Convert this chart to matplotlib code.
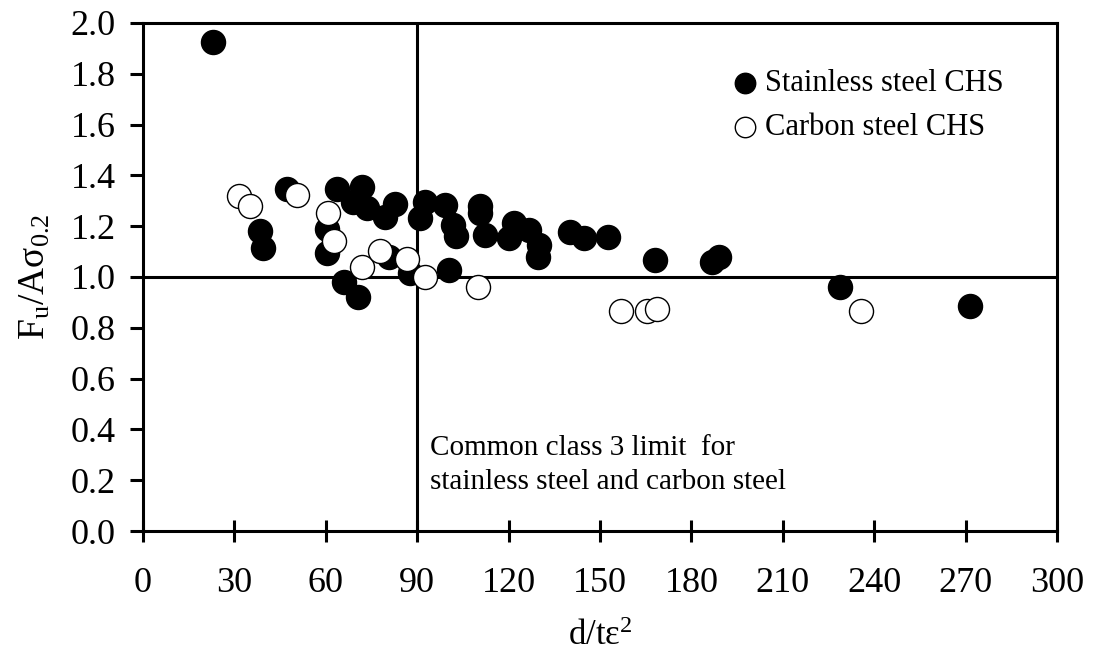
import matplotlib
matplotlib.use("Agg")
import matplotlib.pyplot as plt

plt.rcParams['font.family'] = ['Liberation Serif', 'DejaVu Serif']
plt.rcParams['mathtext.fontset'] = 'custom'
plt.rcParams['mathtext.rm'] = 'Liberation Serif'
plt.rcParams['mathtext.it'] = 'Liberation Serif:italic'

# stainless steel CHS (filled)
stainless_x = [22.9, 38.4, 39.3, 47.4, 60.3, 60.5, 63.6, 66.0, 69.0, 70.7, 71.8, 73.5,
               79.5, 80.6, 82.8, 87.7, 91.0, 92.6, 99.2, 100.3, 101.9, 102.8, 110.7,
               110.7, 112.3, 120.1, 121.7, 126.6, 129.9, 129.7, 140.3, 144.7, 152.6,
               168.2, 186.9, 189.0, 228.7, 271.4]
stainless_y = [1.925, 1.182, 1.113, 1.345, 1.19, 1.093, 1.345, 0.981, 1.297, 0.922, 1.353,
               1.27, 1.238, 1.08, 1.286, 1.015, 1.231, 1.297, 1.283, 1.028, 1.205, 1.16,
               1.278, 1.25, 1.165, 1.152, 1.211, 1.185, 1.126, 1.08, 1.178, 1.152, 1.159,
               1.067, 1.06, 1.08, 0.959, 0.887]

# carbon steel CHS (open)
carbon_x = [31.5, 35.1, 50.5, 60.7, 62.8, 71.8, 77.8, 86.6, 92.6, 109.9, 156.9, 165.5,
            168.6, 235.8]
carbon_y = [1.319, 1.28, 1.323, 1.253, 1.14, 1.038, 1.104, 1.071, 1.001, 0.962, 0.867,
            0.867, 0.873, 0.867]

x_ticks = list(range(0, 301, 30))
y_ticks = [0.0, 0.2, 0.4, 0.6, 0.8, 1.0, 1.2, 1.4, 1.6, 1.8, 2.0]
class3_limit = 90
ratio_one = 1.0

fig = plt.figure(figsize=(10.95, 6.55), dpi=100)
ax = fig.add_axes([0.1306, 0.1893, 0.8347, 0.7756])

ax.axvline(class3_limit, color='black', lw=2.2, zorder=1)
ax.axhline(ratio_one, color='black', lw=2.2, zorder=1)

ax.scatter(stainless_x, stainless_y, s=300, c='black', edgecolors='black', linewidths=1,
           zorder=3, label='Stainless steel CHS')
ax.scatter(carbon_x, carbon_y, s=300, c='white', edgecolors='black', linewidths=1,
           zorder=4, label='Carbon steel CHS')

ax.set_xlim(0, 300)
ax.set_ylim(0, 2.0)
ax.set_xticks(x_ticks)
ax.set_yticks(y_ticks)
ax.set_yticklabels(['%.1f' % v for v in y_ticks])

for sp in ax.spines.values():
    sp.set_linewidth(2.2)

ax.tick_params(axis='x', direction='inout', length=16, width=2.2, pad=18, labelsize=26)
ax.tick_params(axis='y', direction='out', length=9.5, width=2.2, pad=10, labelsize=26)

ax.set_xlabel(r'd/t$\mathrm{\varepsilon}^{2}$', fontsize=25, labelpad=14)
ax.set_ylabel(r'F$_\mathrm{u}$/A$\mathrm{\sigma}_\mathrm{0.2}$', fontsize=27, labelpad=13)

ax.text(94.2, 0.378, 'Common class 3 limit  for\nstainless steel and carbon steel',
        fontsize=21, va='top', ha='left', linespacing=1.42)

ax.legend(loc='upper left', bbox_to_anchor=(0.645, 0.909), frameon=False, fontsize=22,
          markerscale=0.85, handlelength=0.8, handletextpad=0.25, borderpad=0,
          borderaxespad=0, labelspacing=0.5)

fig.savefig('out.png', dpi=100)
